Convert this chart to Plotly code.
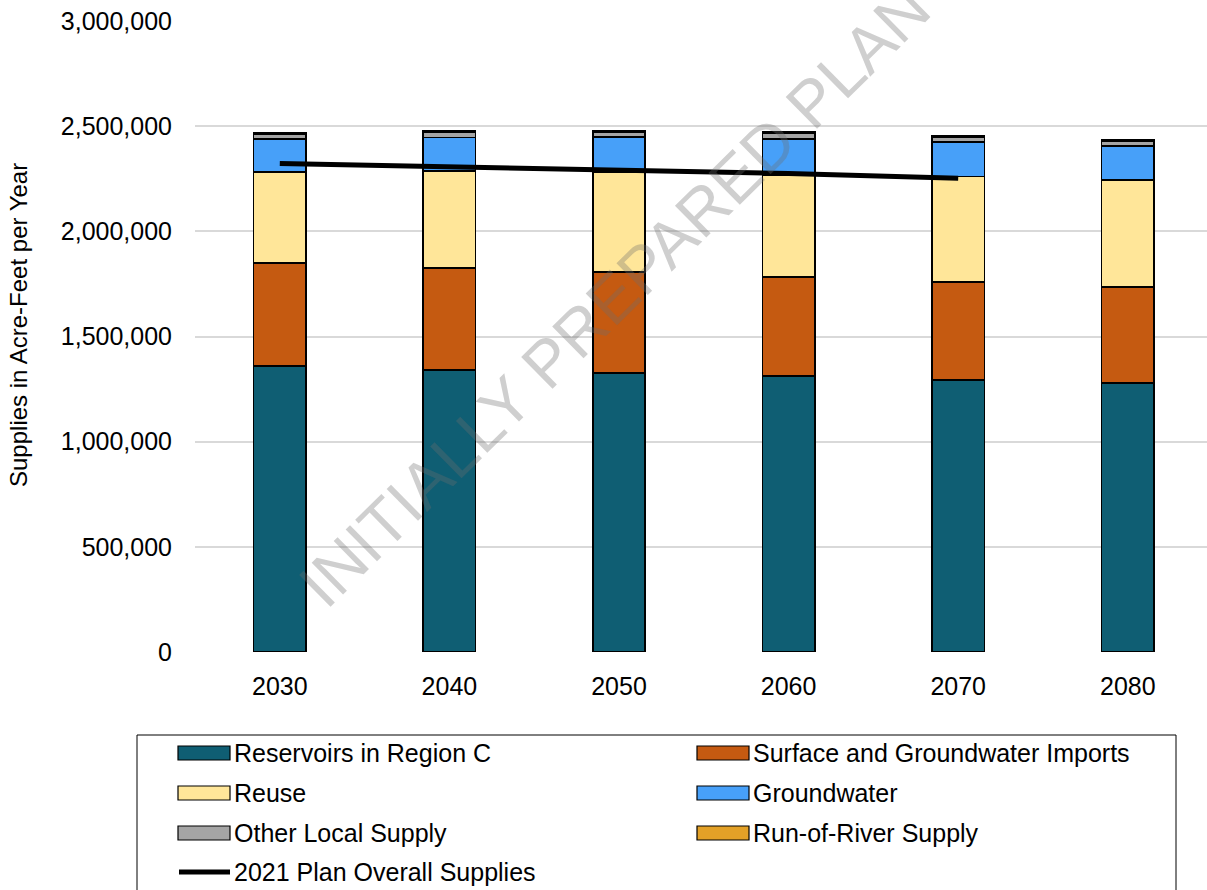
import plotly.graph_objects as go

# Planning decades
years = ["2030", "2040", "2050", "2060", "2070", "2080"]

# Supply sources (acre-feet per year), stacked bottom to top
reservoirs = [1360000, 1341000, 1326000, 1312000, 1293000, 1279000]
imports = [489000, 485000, 480000, 471000, 466000, 456000]
reuse = [433000, 461000, 477000, 483000, 501000, 508000]
groundwater = [158000, 160000, 166000, 174000, 164000, 162000]
other_local = [24000, 24000, 23000, 26000, 24000, 24000]
run_of_river = [6000, 6000, 6000, 6000, 6000, 6000]

# Overall supplies from the 2021 plan (no 2080 value)
plan_2021 = [2322000, 2305000, 2290000, 2275000, 2252000, None]

series_names = [
    "Reservoirs in Region C",
    "Surface and Groundwater Imports",
    "Reuse",
    "Groundwater",
    "Other Local Supply",
    "Run-of-River Supply",
]
series_values = [reservoirs, imports, reuse, groundwater, other_local, run_of_river]
series_colors = ["#0F5E73", "#C55A11", "#FFE699", "#47A0F9", "#A5A5A5", "#E3A127"]
line_name = "2021 Plan Overall Supplies"

y_ticks = [0, 500000, 1000000, 1500000, 2000000, 2500000, 3000000]

FONT = "Liberation Sans, Arial, sans-serif"
W, H = 1207, 890
ML, MR, MT, MB = 195, 0, 21, 238
PW = W - ML - MR
PH = H - MT - MB


def px_x(px):
    return (px - ML) / PW


def px_y(py):
    return (H - MB - py) / PH


fig = go.Figure()

for name, vals, col in zip(series_names, series_values, series_colors):
    fig.add_trace(go.Bar(
        x=years, y=vals, name=name,
        marker=dict(color=col, line=dict(color="black", width=1.6)),
        showlegend=False,
    ))

fig.add_trace(go.Scatter(
    x=years, y=plan_2021, name=line_name, mode="lines",
    line=dict(color="black", width=5),
    showlegend=False,
))

# Legend box with swatches and labels
shapes = [dict(
    type="rect", xref="paper", yref="paper",
    x0=px_x(137), x1=px_x(1176), y0=px_y(905), y1=px_y(735),
    line=dict(color="black", width=1), fillcolor="rgba(0,0,0,0)", layer="above",
)]
annotations = []
entries = list(zip(series_names, series_colors)) + [(line_name, None)]
col_x = [178, 697]
row_y = [753, 793, 833, 872]
for i, (name, col) in enumerate(entries):
    cx = col_x[i % 2]
    ry = row_y[i // 2]
    if col is None:
        shapes.append(dict(
            type="line", xref="paper", yref="paper",
            x0=px_x(cx + 1), x1=px_x(cx + 52), y0=px_y(ry), y1=px_y(ry),
            line=dict(color="black", width=5),
        ))
    else:
        shapes.append(dict(
            type="rect", xref="paper", yref="paper",
            x0=px_x(cx), x1=px_x(cx + 52), y0=px_y(ry + 7), y1=px_y(ry - 7),
            line=dict(color="black", width=1.2), fillcolor=col,
        ))
    annotations.append(dict(
        text=name, xref="paper", yref="paper",
        x=px_x(cx + 54), y=px_y(ry), xanchor="left", yanchor="middle",
        showarrow=False, font=dict(family=FONT, size=25, color="black"),
    ))

# Axis title
annotations.append(dict(
    text="Supplies in Acre-Feet per Year", xref="paper", yref="paper",
    x=px_x(18), y=px_y(325), textangle=-90, xanchor="center", yanchor="middle",
    showarrow=False, font=dict(family=FONT, size=24, color="black"),
))

# Draft watermark across the plot
annotations.append(dict(
    text="INITIALLY PREPARED PLAN", xref="paper", yref="paper",
    x=px_x(614), y=px_y(296), textangle=-44.5, xanchor="center", yanchor="middle",
    showarrow=False, font=dict(family=FONT, size=65, color="rgba(110,110,110,0.33)"),
))

fig.update_layout(
    width=W, height=H,
    margin=dict(l=ML, r=MR, t=MT, b=MB, autoexpand=False),
    barmode="stack", bargap=0.69,
    plot_bgcolor="white", paper_bgcolor="white",
    font=dict(family=FONT, size=25, color="black"),
    shapes=shapes, annotations=annotations,
    showlegend=False,
)
fig.update_xaxes(
    type="category", range=[-0.5, 5.467],
    showgrid=False, zeroline=False, showline=False, ticks="",
    ticklabelstandoff=17, tickfont=dict(family=FONT, size=25, color="black"),
)
fig.update_yaxes(
    range=[0, 3000000], tickvals=y_ticks, tickformat=",d",
    showgrid=True, gridcolor="#D9D9D9", gridwidth=1.5,
    zeroline=False, showline=False, ticks="",
    ticklabelstandoff=22, tickfont=dict(family=FONT, size=25, color="black"),
)

fig.write_html("out.html")
